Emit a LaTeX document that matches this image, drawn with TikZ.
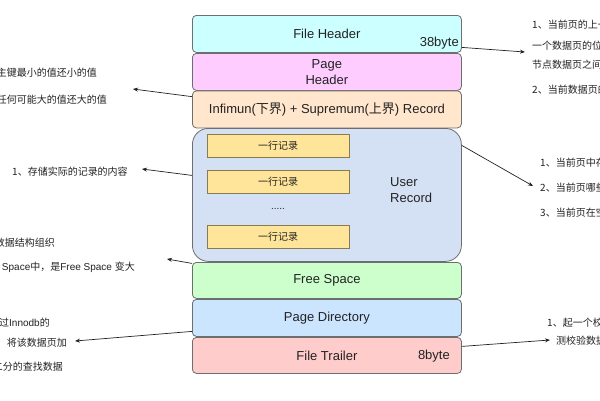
\documentclass[tikz,border=0pt]{standalone}
\usepackage{fontspec}
\setmainfont{Liberation Sans}
\newfontfamily\cjk{Noto Sans CJK SC}
\newfontfamily\latn{Liberation Sans}
\usetikzlibrary{arrows.meta}
\definecolor{edgegray}{HTML}{6E6E6E}
\definecolor{txt}{HTML}{222222}
\definecolor{fhfill}{HTML}{CCFFFF}
\definecolor{phfill}{HTML}{FFCCFF}
\definecolor{inffill}{HTML}{FFE6CC}
\definecolor{urfill}{HTML}{D4E1F5}
\definecolor{fsfill}{HTML}{CCFFCC}
\definecolor{pdfill}{HTML}{CCE5FF}
\definecolor{ftfill}{HTML}{FFCCCC}
\definecolor{recfill}{HTML}{FFE599}
\definecolor{recedge}{HTML}{8A7A50}
\begin{document}
\begin{tikzpicture}[x=1pt,y=-1pt,
  seg/.style={draw=edgegray, line width=0.8pt, rounded corners=4pt, anchor=north west,
    minimum width=269pt, inner sep=0pt, text=txt, font=\fontsize{13}{16}\selectfont},
  recbox/.style={draw=recedge, fill=recfill, line width=0.7pt, minimum width=142pt, minimum height=23pt,
    inner sep=0pt, text=txt, font=\cjk\fontsize{10}{12}\selectfont},
  lab/.style={inner sep=0pt, text=txt, font=\fontsize{13}{16}\selectfont},
  side/.style={inner sep=0pt, text=txt, font=\cjk\fontsize{10}{12}\selectfont},
  arr/.style={draw=txt, line width=0.7pt, -{Stealth[length=5pt,width=4pt]}}]
\useasboundingbox (0,0) rectangle (600,400);
\fill[white] (0,0) rectangle (600,400);

% page segments
\node[seg, fill=fhfill, minimum height=37pt] (fh) at (192,15) {File Header};
\node[seg, fill=phfill, minimum height=37pt, align=center] (ph) at (192,53) {Page\\Header};
\node[seg, fill=inffill, minimum height=37pt] (inf) at (192,90.5) {Infimun({\cjk 下界}) + Supremum({\cjk 上界}) Record};
\node[seg, fill=urfill, minimum height=133pt, rounded corners=16pt] (ur) at (192,128) {};
\node[seg, fill=fsfill, minimum height=36pt] (fs) at (192,262) {Free Space};
\node[seg, fill=pdfill, minimum height=37pt] (pd) at (192,299) {Page Directory};
\node[seg, fill=ftfill, minimum height=36pt] (ft) at (192,337) {File Trailer};

\node[lab, anchor=east] (b38) at (459,43) {38byte};
\node[lab, anchor=east] (b8) at (450,356) {8byte};
\node[lab, anchor=west, align=left] (urlab) at (390,190) {User\\Record};

% records
\node[recbox] (r1) at (278,145.5) {一行记录};
\node[recbox] (r2) at (278,181.5) {一行记录};
\node[side, font=\fontsize{10}{12}\selectfont] (dots) at (278,209) {.....};
\node[recbox] (r3) at (278,237) {一行记录};

% left texts
\node[side, anchor=east] (l1) at (97,73) {主键最小的值还小的值};
\node[side, anchor=east] (l2) at (107,100) {任何可能大的值还大的值};
\node[side, anchor=west] (l3) at (12,172) {1、存储实际的记录的内容};
\node[side, anchor=east] (l4) at (55,243) {数据结构组织};
\node[side, anchor=east] (l5) at (135,267) {{\latn Space}中，是{\latn Free Space }变大};
\node[side, anchor=east] (l6) at (50,323) {过{\latn Innodb}的};
\node[side, anchor=east] (l7) at (67,343) {将该数据页加};
\node[side, anchor=east] (l8) at (63,367) {二分的查找数据};

% right texts
\node[side, anchor=west] (r1t) at (532,25) {1、当前页的上一};
\node[side, anchor=west] (r2t) at (532,46) {一个数据页的位置};
\node[side, anchor=west] (r3t) at (532,65) {节点数据页之间};
\node[side, anchor=west] (r4t) at (532,90) {2、当前数据页的};
\node[side, anchor=west] (r5t) at (540,163) {1、当前页中存};
\node[side, anchor=west] (r6t) at (540,188) {2、当前页哪些};
\node[side, anchor=west] (r7t) at (540,213) {3、当前页在空};
\node[side, anchor=west] (r8t) at (547,323) {1、起一个校};
\node[side, anchor=west] (r9t) at (556,341) {测校验数据页};

% arrow tips
\coordinate (t1) at (525,52);
\coordinate (t2) at (133,89);
\coordinate (t3) at (142,169);
\coordinate (t4) at (533,186);
\coordinate (t5) at (167,259);
\coordinate (t6) at (75,341);
\coordinate (t7) at (550,340);

\draw[arr] ([yshift=-13.5pt]fh.east) -- (t1);
\draw[arr] ([yshift=12.75pt]inf.west) -- (t2);
\draw[arr] ([yshift=19.5pt]ur.west) -- (t3);
\draw[arr] ([yshift=49.5pt]ur.east) -- (t4);
\draw[arr] ([yshift=17pt]fs.west) -- (t5);
\draw[arr] ([yshift=-13.5pt]pd.west) -- (t6);
\draw[arr] ([yshift=9pt]ft.east) -- (t7);
\end{tikzpicture}
\end{document}
